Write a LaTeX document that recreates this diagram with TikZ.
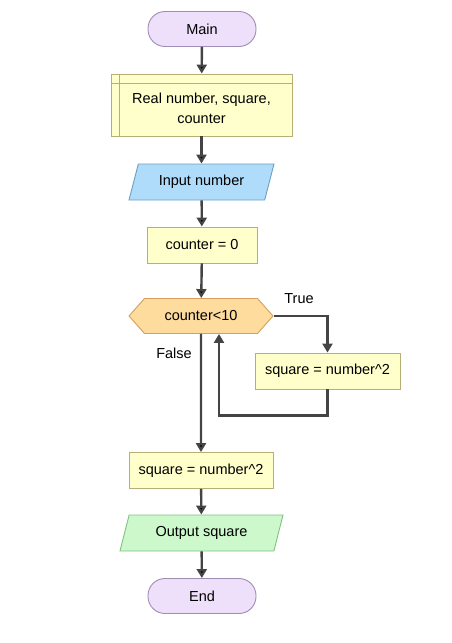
\documentclass[tikz,border=0pt]{standalone}
\usepackage{fontspec}
\setmainfont{Liberation Sans}
\usetikzlibrary{shapes.geometric,shapes.symbols,arrows.meta}
\definecolor{termfill}{HTML}{EEDFFB}
\definecolor{termline}{HTML}{A08CB4}
\definecolor{procfill}{HTML}{FFFFCC}
\definecolor{procline}{HTML}{B8AE78}
\definecolor{infill}{HTML}{AEDCFA}
\definecolor{inline}{HTML}{6E9EC4}
\definecolor{decfill}{HTML}{FDDC9E}
\definecolor{decline}{HTML}{D4A05C}
\definecolor{outfill}{HTML}{CCF8CC}
\definecolor{outline}{HTML}{80C280}
\definecolor{flowgray}{HTML}{444444}

\begin{document}
\begin{tikzpicture}[x=1pt,y=-1pt,>={Triangle[length=9pt,width=10pt]},
    every node/.style={font=\fontsize{14.5}{20}\selectfont,line width=0.9pt,inner sep=2pt},
    term node/.style={draw=termline,fill=termfill,rounded corners=17pt,minimum width=108pt,minimum height=35pt},
    proc node/.style={draw=procline,fill=procfill,minimum height=36pt},
    io node/.style={trapezium,trapezium left angle=62,trapezium right angle=118,trapezium stretches body,minimum height=36pt},
    dec node/.style={signal,signal to=east and west,signal pointer angle=97,draw=decline,fill=decfill,minimum width=144pt,minimum height=35pt},
    flow/.style={->,draw=flowgray,line width=2.4pt}]
  \useasboundingbox (0,0) rectangle (452,643);

  \node[term node] (main) at (202,29) {Main};
  \node[proc node, minimum width=181pt, minimum height=62pt] (decl) at (201.5,105) {};
  \draw[procline, line width=0.9pt] ([xshift=9pt]decl.north west) -- ([xshift=9pt]decl.south west)
    ([yshift=-10pt]decl.north west) -- ([yshift=-10pt]decl.north east);
  \node[align=center] (decltext) at ([yshift=-3pt]decl.center) {Real number, square,\\counter};
  \node[io node, draw=inline, fill=infill, minimum width=145pt] (input) at (201.5,182) {Input number};
  \node[proc node, minimum width=110pt] (zero) at (202,245) {counter = 0};
  \node[dec node] (test) at (201,316) {counter<10};
  \node[proc node, minimum width=145pt] (body) at (327.5,371) {square = number\^{}2};
  \node[proc node, minimum width=144pt] (calc) at (201,470.5) {square = number\^{}2};
  \node[io node, draw=outline, fill=outfill, minimum width=163pt] (output) at (201.5,533) {Output square};
  \node[term node] (end) at (202,596) {End};

  \node (true) at (299,299) {True};
  \node (false) at (174,353) {False};

  \path[flow]
    (main) edge (decl)
    (decl) edge (input)
    (input) edge (zero)
    (zero) edge (test)
    (test) edge (calc)
    (calc) edge (output)
    (output) edge (end);
  \draw[flow] (test.east) -| (body.north);
  \draw[flow] (body.south) -- ++(0,26) -| ([xshift=18pt]test.south);
\end{tikzpicture}
\end{document}
